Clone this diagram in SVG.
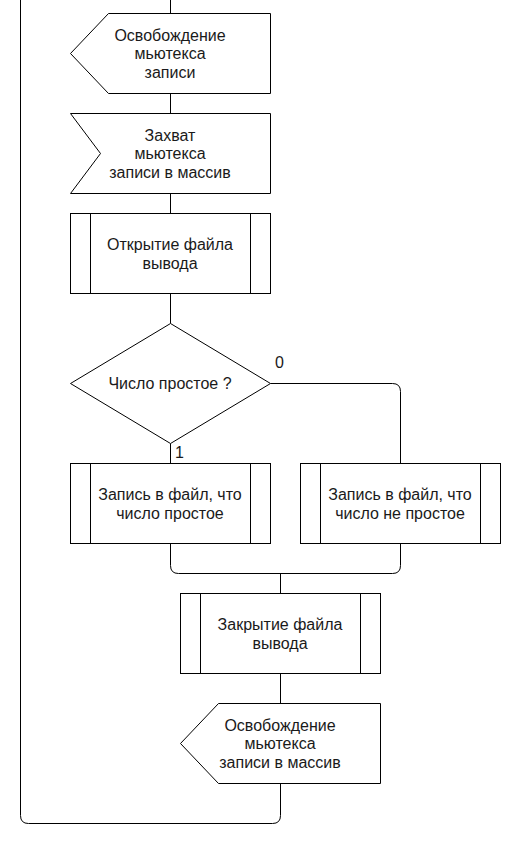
<svg xmlns="http://www.w3.org/2000/svg" width="525" height="849" viewBox="0 0 525 849">
<style>
.s{fill:#fff;stroke:#000;stroke-width:1}
.l{fill:none;stroke:#000;stroke-width:1}
.t{font-family:"Liberation Sans",Arial,sans-serif;font-size:16px;fill:#1a1a1a;text-anchor:middle}
.e{font-family:"Liberation Sans",Arial,sans-serif;font-size:16px;fill:#1a1a1a}
</style>
<rect width="525" height="849" fill="#fff"/>
<g id="connectors">
<path class="l" d="M170.5 0V13.5"/>
<path class="l" d="M170.5 93.5V113.5"/>
<path class="l" d="M170.5 193.5V213.5"/>
<path class="l" d="M170.5 293.5V323.5"/>
<path class="l" d="M170.5 443.5V463.5"/>
<path class="l" d="M270.5 383.5H392.5Q400.5 383.5 400.5 391.5V463.5"/>
<path class="l" d="M170.5 543.5V565.5Q170.5 573.5 178.5 573.5H392.5Q400.5 573.5 400.5 565.5V543.5"/>
<path class="l" d="M280.5 573.5V593.5"/>
<path class="l" d="M280.5 673.5V703.5"/>
<path class="l" d="M280.5 783.5V815.5Q280.5 823.5 272.5 823.5H28.5Q20.5 823.5 20.5 815.5V0"/>
<text class="e" x="275" y="368">0</text>
<text class="e" x="175" y="458">1</text>
</g>
<g id="release1">
<path class="s" d="M108.5 13.5H270.5V93.5H108.5L70.5 53.5Z"/>
<text class="t" x="170" y="40.5">Освобождение</text>
<text class="t" x="170" y="59">мьютекса</text>
<text class="t" x="170" y="77.5">записи</text>
</g>
<g id="capture">
<path class="s" d="M70.5 113.5H270.5V193.5H70.5L100.5 153.5Z"/>
<text class="t" x="170" y="140.5">Захват</text>
<text class="t" x="170" y="159">мьютекса</text>
<text class="t" x="170" y="177.5">записи в массив</text>
</g>
<g id="open">
<rect class="s" x="70.5" y="213.5" width="200" height="80"/>
<path class="l" d="M90.5 213.5V293.5M250.5 213.5V293.5"/>
<text class="t" x="170" y="250">Открытие файла</text>
<text class="t" x="170" y="268.5">вывода</text>
</g>
<g id="decision">
<path class="s" d="M170.5 323.5L270.5 383.5L170.5 443.5L70.5 383.5Z"/>
<text class="t" x="170" y="389">Число простое ?</text>
</g>
<g id="writePrime">
<rect class="s" x="70.5" y="463.5" width="200" height="80"/>
<path class="l" d="M90.5 463.5V543.5M250.5 463.5V543.5"/>
<text class="t" x="170" y="500">Запись в файл, что</text>
<text class="t" x="170" y="518.5">число простое</text>
</g>
<g id="writeNotPrime">
<rect class="s" x="300.5" y="463.5" width="200" height="80"/>
<path class="l" d="M320.5 463.5V543.5M480.5 463.5V543.5"/>
<text class="t" x="400" y="500">Запись в файл, что</text>
<text class="t" x="400" y="518.5">число не простое</text>
</g>
<g id="close">
<rect class="s" x="180.5" y="593.5" width="200" height="80"/>
<path class="l" d="M200.5 593.5V673.5M360.5 593.5V673.5"/>
<text class="t" x="280" y="630">Закрытие файла</text>
<text class="t" x="280" y="648.5">вывода</text>
</g>
<g id="release2">
<path class="s" d="M218.5 703.5H380.5V783.5H218.5L180.5 743.5Z"/>
<text class="t" x="280" y="730.5">Освобождение</text>
<text class="t" x="280" y="749">мьютекса</text>
<text class="t" x="280" y="767.5">записи в массив</text>
</g>
</svg>
